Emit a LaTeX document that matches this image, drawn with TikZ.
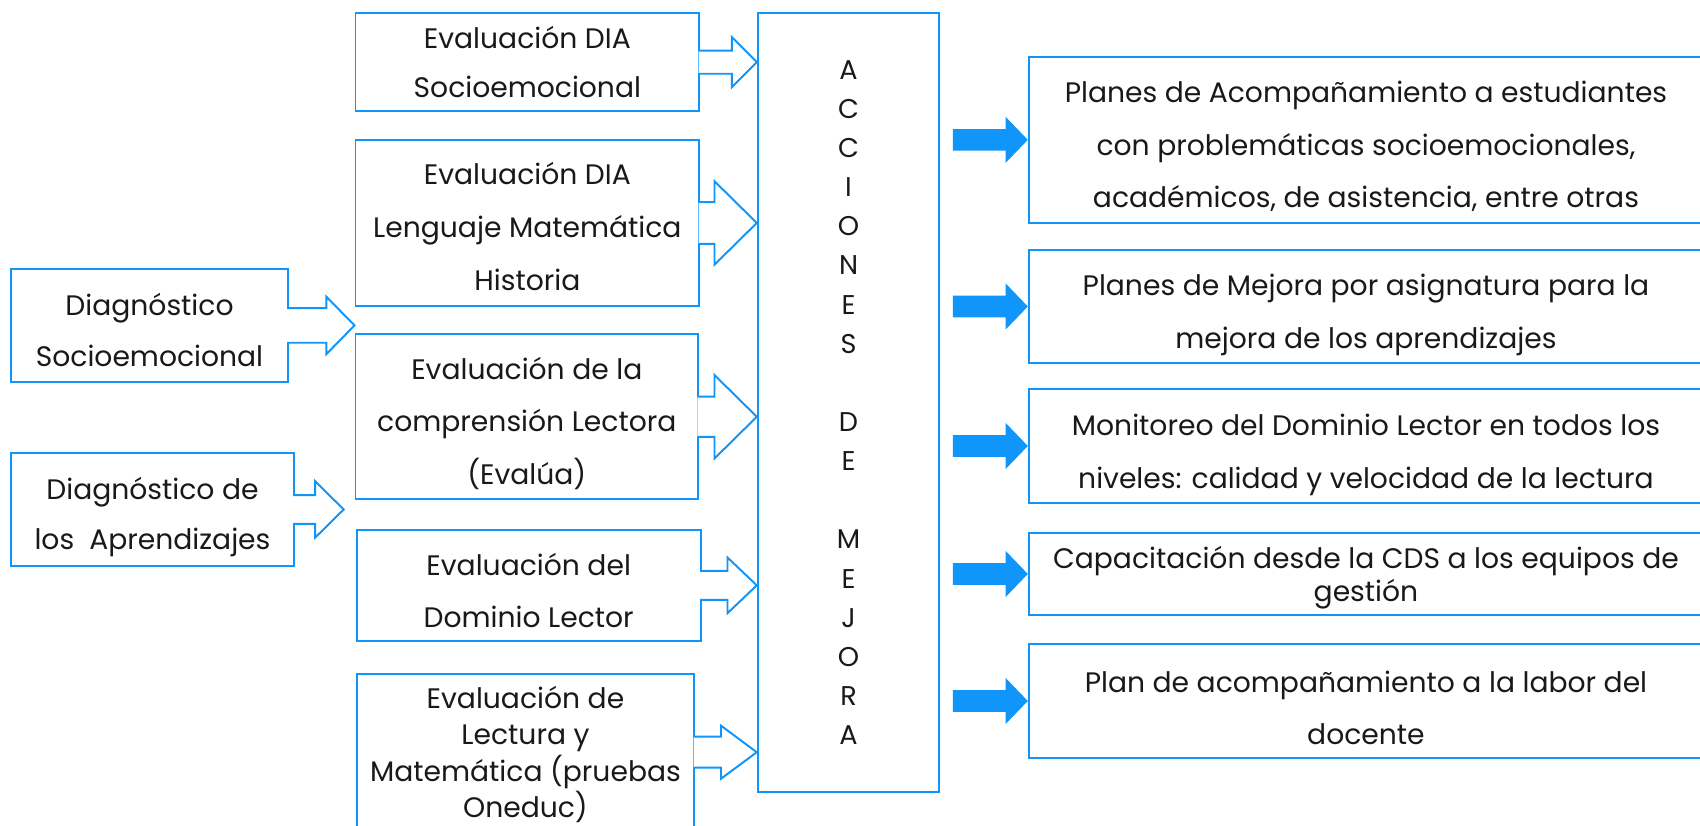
\documentclass[tikz,border=0pt]{standalone}
\usepackage{fontspec}
\setmainfont{Poppins}
\usetikzlibrary{calc}
\definecolor{myblue}{RGB}{16,150,250}
\definecolor{txt}{RGB}{25,25,25}
\tikzset{
  bx/.style={draw=myblue, line width=1.8pt, inner sep=0pt, anchor=north west},
  lbl/.style={align=center, text=txt, inner sep=0pt},
  harrowstyle/.style={draw=myblue, line width=1.8pt, fill=white, line join=miter},
}
\newcommand{\fs}[1]{\fontsize{26}{#1}\selectfont}
% hollow arrow: #1 source node, #2 tip coordinate, #3 shaft half, #4 head half, #5 head length
\newcommand{\harr}[5]{%
  \draw[harrowstyle] let \p1=(#1.east), \p2=(#2) in
    (\x1-1.5pt,\y1+#3pt) -- (\x2-#5pt,\y1+#3pt) -- (\x2-#5pt,\y1+#4pt) -- (\x2,\y1)
    -- (\x2-#5pt,\y1-#4pt) -- (\x2-#5pt,\y1-#3pt) -- (\x1-1.5pt,\y1-#3pt);
}
% solid arrow from #1 east to #2 west
\newcommand{\barr}[2]{%
  \fill[myblue] let \p1=(#1.east), \p2=(#2.west) in
    (\x1+11.5pt,\y2+10pt) -- (\x2-20.5pt,\y2+10pt) -- (\x2-20.5pt,\y2+21.3pt) -- (\x2,\y2)
    -- (\x2-20.5pt,\y2-21.3pt) -- (\x2-20.5pt,\y2-10pt) -- (\x1+11.5pt,\y2-10pt) -- cycle;
}
\begin{document}
\begin{tikzpicture}[x=1pt,y=-1pt]
\clip (0,0) rectangle (1568,761);
\fill[white] (0,0) rectangle (1568,761);

% boxes
\node[bx, minimum width=255pt, minimum height=103.5pt] (ds) at (9.5,247.5) {};
\node[bx, minimum width=260.5pt, minimum height=104pt] (da) at (9.5,417) {};
\node[bx, minimum width=317pt, minimum height=90pt] (b1) at (327,11.4) {};
\node[bx, minimum width=317pt, minimum height=152.5pt] (b2) at (327,128.5) {};
\node[bx, minimum width=316pt, minimum height=152pt] (b3) at (327,307.5) {};
\node[bx, minimum width=317.5pt, minimum height=102pt] (b4) at (328,488) {};
\node[bx, minimum width=311.5pt, minimum height=145pt] (b5) at (328,620.4) {};
\node[bx, minimum width=167.5pt, minimum height=718pt] (cbox) at (698,11.4) {};
\node[bx, minimum width=622pt, minimum height=153pt] (r1) at (948,51.6) {};
\node[bx, minimum width=622pt, minimum height=103.6pt] (r2) at (948,230) {};
\node[bx, minimum width=622pt, minimum height=104.5pt] (r3) at (948,358.2) {};
\node[bx, minimum width=622pt, minimum height=76.2pt] (r4) at (948,490.4) {};
\node[bx, minimum width=622pt, minimum height=104.5pt] (r5) at (948,593.4) {};

% texts
\node[lbl, font=\fs{47}] (dst) at ([yshift=-4pt]ds.center) {Diagnóstico\\Socioemocional};
\node[lbl, font=\fs{47}] (dat) at ([yshift=-7pt]da.center) {Diagnóstico de\\los\ \ Aprendizajes};
\node[lbl, font=\fs{45}] (b1t) at ([yshift=0pt]b1.center) {Evaluación DIA\\Socioemocional};
\node[lbl, font=\fs{49}] (b2t) at ([yshift=-3pt]b2.center) {Evaluación DIA\\Lenguaje Matemática\\Historia};
\node[lbl, font=\fs{48.5}] (b3t) at ([yshift=-6pt]b3.center) {Evaluación de la\\comprensión Lectora\\(Evalúa)};
\node[lbl, font=\fs{48}] (b4t) at ([yshift=-5pt]b4.center) {Evaluación del\\Dominio Lector};
\node[lbl, font=\fs{33.5}] (b5t) at ([yshift=-2pt]b5.center) {Evaluación de\\Lectura y\\Matemática (pruebas\\Oneduc)};
\node[lbl, font=\fontsize{25}{36.1}\selectfont] (ct) at ([yshift=0pt]cbox.center)
  {A\\C\\C\\I\\O\\N\\E\\S\\\mbox{}\\D\\E\\\mbox{}\\M\\E\\J\\O\\R\\A};
\node[lbl, font=\fs{48.5}] (r1t) at ([yshift=-6pt]r1.center) {Planes de Acompañamiento a estudiantes\\con problemáticas socioemocionales,\\académicos, de asistencia, entre otras};
\node[lbl, font=\fs{49}] (r2t) at ([yshift=-8pt]r2.center) {Planes de Mejora por asignatura para la\\mejora de los aprendizajes};
\node[lbl, font=\fs{49}] (r3t) at ([yshift=-8pt]r3.center) {Monitoreo del Dominio Lector en todos los\\niveles: calidad y velocidad de la lectura};
\node[lbl, font=\fs{30.5}] (r4t) at ([yshift=-3pt]r4.center) {Capacitación desde la CDS a los equipos de\\gestión};
\node[lbl, font=\fs{48}] (r5t) at ([yshift=-6pt]r5.center) {Plan de acompañamiento a la labor del\\docente};

% hollow arrows
\coordinate (datip) at (317,469);
\harr{b1}{cbox.west}{10.7}{23}{23}
\harr{b2}{cbox.west}{19.2}{38.5}{39}
\harr{b3}{cbox.west}{18.5}{38.5}{39}
\harr{b4}{cbox.west}{13.3}{25.7}{27}
\harr{b5}{cbox.west}{14.3}{24.5}{33}
\harr{ds}{b3.west}{16}{26.5}{26}
\harr{da}{datip}{13.3}{26}{26.3}

% solid arrows
\barr{cbox}{r1}
\barr{cbox}{r2}
\barr{cbox}{r3}
\barr{cbox}{r4}
\barr{cbox}{r5}
\end{tikzpicture}
\end{document}
